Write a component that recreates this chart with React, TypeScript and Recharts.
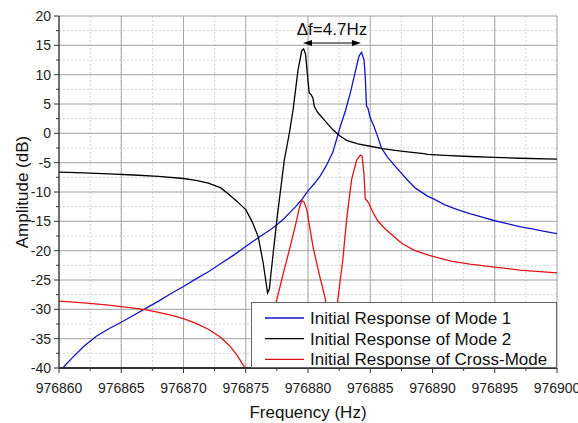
import React from 'react';
import { LineChart, Line, XAxis, YAxis, CartesianGrid, Legend, ReferenceLine, Label } from 'recharts';

// frequency (Hz) / amplitude (dB) pairs
const mode1Freq = [976860.3, 976861, 976862, 976863, 976864, 976865, 976866, 976867, 976868, 976869, 976870, 976871, 976872, 976873, 976874, 976875, 976876, 976877, 976877.5, 976878, 976878.5, 976879, 976879.5, 976880, 976880.5, 976881, 976881.5, 976882, 976882.6, 976883, 976883.4, 976883.9, 976884.1, 976884.3, 976884.5, 976884.6, 976884.7, 976884.8, 976885, 976885.3, 976885.6, 976885.9, 976886.4, 976887, 976888, 976888.6, 976889.6, 976890, 976891, 976892, 976893, 976894, 976895, 976896, 976897, 976898, 976899, 976900];
const mode1Amp = [-40, -38.4, -36.3, -34.6, -33.3, -32.2, -31, -29.8, -28.6, -27.3, -26.1, -24.8, -23.6, -22.2, -20.8, -19.3, -17.8, -16.4, -15.6, -14.7, -13.6, -12.5, -11.3, -9.8, -8.6, -7.2, -5.4, -3.2, 1.2, 3.8, 6.9, 11.4, 13.2, 13.8, 12.5, 9.7, 4.6, 4.4, 2.6, 1.2, -0.6, -2.5, -4.1, -5.6, -8.0, -9.3, -10.7, -11.1, -12.2, -13.0, -13.7, -14.3, -14.9, -15.4, -15.9, -16.3, -16.7, -17.1];

const mode2Freq = [976860, 976862, 976864, 976866, 976868, 976870, 976871, 976872, 976873, 976873.7, 976874.3, 976875, 976875.5, 976876, 976876.4, 976876.6, 976876.75, 976876.9, 976877, 976877.5, 976877.9, 976878.1, 976878.5, 976878.8, 976879.2, 976879.5, 976879.65, 976879.8, 976880, 976880.1, 976880.25, 976880.4, 976880.5, 976880.8, 976881.3, 976882, 976882.6, 976883.1, 976884, 976885, 976886, 976887, 976888, 976889.3, 976889.6, 976891, 976893, 976895, 976897, 976900];
const mode2Amp = [-6.6, -6.75, -6.9, -7.1, -7.35, -7.7, -8.0, -8.5, -9.3, -10.5, -11.6, -13, -15, -17.6, -22.1, -25, -27.2, -26.5, -24.4, -14.7, -7.9, -4.5, 0, 4.0, 10.8, 14.1, 14.4, 13.5, 9, 6.9, 6.6, 6.0, 4.6, 3.5, 2.3, 0.6, -0.5, -1.2, -1.8, -2.2, -2.6, -2.9, -3.15, -3.45, -3.6, -3.75, -3.95, -4.1, -4.25, -4.4];

const crossFreq = [976860, 976862, 976864, 976866, 976867, 976868, 976869, 976870, 976871, 976872, 976873, 976873.7, 976874.3, 976875, 976875.5, 976876, 976876.5, 976877, 976877.5, 976878, 976878.5, 976879, 976879.3, 976879.5, 976879.7, 976879.9, 976880.1, 976880.4, 976880.9, 976881.4, 976881.9, 976882.4, 976882.8, 976883.1, 976883.5, 976883.9, 976884.2, 976884.35, 976884.5, 976884.6, 976884.75, 976884.85, 976885.2, 976885.6, 976886.2, 976887.5, 976888.5, 976889.6, 976890.4, 976891.5, 976893, 976895, 976897, 976900];
const crossAmp = [-28.6, -28.9, -29.3, -29.8, -30.1, -30.5, -31, -31.6, -32.4, -33.4, -34.8, -36.2, -37.8, -40.2, -48, -41, -36.6, -32.4, -28.3, -24, -19.9, -15.6, -12.8, -11.4, -11.8, -13, -15.5, -19.3, -24, -28.3, -40, -28.3, -21.5, -14.7, -7.9, -4.6, -3.7, -3.9, -7, -11.2, -11.5, -11.8, -13.4, -14.9, -16.3, -18.7, -19.9, -20.7, -21.2, -21.8, -22.3, -22.8, -23.3, -23.8];

const seriesNames = ['Initial Response of Mode 1', 'Initial Response of Mode 2', 'Initial Response of Cross-Mode'];
const seriesColors = ['#1414c8', '#000000', '#e01414'];

const xTicks = [976860, 976862.5, 976865, 976867.5, 976870, 976872.5, 976875, 976877.5, 976880, 976882.5, 976885, 976887.5, 976890, 976892.5, 976895, 976897.5, 976900];
const yTicks = [-40, -37.5, -35, -32.5, -30, -27.5, -25, -22.5, -20, -17.5, -15, -12.5, -10, -7.5, -5, -2.5, 0, 2.5, 5, 7.5, 10, 12.5, 15, 17.5, 20];
const xMajor = xTicks.filter((v) => (v - 976860) % 5 === 0);
const yMajor = yTicks.filter((v) => v % 5 === 0);

const deltaStart = 976879.6;
const deltaEnd = 976884.25;
const deltaLevel = 15.4;

const zip = (f: number[], a: number[]) => f.map((x, i) => ({ f: x, v: a[i] }));
const mode1 = zip(mode1Freq, mode1Amp);
const mode2 = zip(mode2Freq, mode2Amp);
const cross = zip(crossFreq, crossAmp);

const font = '"Liberation Sans", Arial, sans-serif';

const XTick = (props: any) => {
  const { x, y, payload } = props;
  const major = (payload.value - 976860) % 5 === 0;
  return (
    <g>
      <line x1={x} x2={x} y1={y} y2={y + (major ? 5 : 3)} stroke="#333" strokeWidth={1} />
      {major && (
        <text x={x} y={y + 25} textAnchor="middle" fontSize={14} fill="#222" fontFamily={font}>
          {payload.value}
        </text>
      )}
    </g>
  );
};

const YTick = (props: any) => {
  const { x, y, payload } = props;
  const major = payload.value % 5 === 0;
  return (
    <g>
      <line x1={x - (major ? 5 : 3)} x2={x} y1={y} y2={y} stroke="#333" strokeWidth={1} />
      {major && (
        <text x={x - 8} y={y} dy="0.35em" textAnchor="end" fontSize={14} fill="#222" fontFamily={font}>
          {payload.value}
        </text>
      )}
    </g>
  );
};

const DeltaArrow = (props: any) => {
  const { x1, y1, x2 } = props;
  return (
    <g>
      <line x1={x1 + 6} x2={x2 - 6} y1={y1} y2={y1} stroke="#000" strokeWidth={1.2} />
      <polygon points={`${x1},${y1} ${x1 + 9},${y1 - 3} ${x1 + 9},${y1 + 3}`} fill="#000" />
      <polygon points={`${x2},${y1} ${x2 - 9},${y1 - 3} ${x2 - 9},${y1 + 3}`} fill="#000" />
      <text x={(x1 + x2) / 2} y={y1 - 8} textAnchor="middle" fontSize={17} fill="#111" fontFamily={font}>
        Δf=4.7Hz
      </text>
    </g>
  );
};

const LegendBox = () => (
  <svg width={306} height={66} style={{ display: 'block' }}>
    <rect x={0.5} y={0.5} width={305} height={65} fill="#fff" stroke="#666" />
    {seriesNames.map((name, i) => {
      const cy = 16 + i * 20.7;
      return (
        <g key={name}>
          <line x1={14} x2={53} y1={cy} y2={cy} stroke={seriesColors[i]} strokeWidth={1.3} />
          <text x={59} y={cy} dy="0.35em" fontSize={17} fill="#111" fontFamily={font}>
            {name}
          </text>
        </g>
      );
    })}
  </svg>
);

export default function App() {
  return (
    <div style={{ position: 'absolute', left: 0, top: 0, background: '#fff' }}>
      <LineChart width={578} height={423} margin={{ top: 16, right: 21, left: 0, bottom: 0 }}>
        <CartesianGrid stroke="#c8c8c8" strokeDasharray="2 2" strokeWidth={0.8} />
        <CartesianGrid
          stroke="#a8a8a8"
          strokeWidth={1}
          horizontalValues={yMajor}
          verticalValues={xMajor}
        />
        <XAxis
          type="number"
          dataKey="f"
          domain={[976860, 976900]}
          ticks={xTicks}
          interval={0}
          allowDataOverflow
          height={55}
          tickSize={0}
          tickMargin={0}
          tickLine={false}
          tick={<XTick />}
          axisLine={{ stroke: '#333', strokeWidth: 2 }}
        >
          <Label
            value="Frequency (Hz)"
            position="insideBottom"
            offset={5}
            style={{ fontSize: 17, fill: '#111', fontFamily: font }}
          />
        </XAxis>
        <YAxis
          type="number"
          domain={[-40, 20]}
          ticks={yTicks}
          interval={0}
          allowDataOverflow
          width={59}
          tickSize={0}
          tickMargin={0}
          tickLine={false}
          tick={<YTick />}
          axisLine={{ stroke: '#333', strokeWidth: 1.2 }}
        >
          <Label
            content={(p: any) => {
              const vb = p.viewBox || { x: 0, y: 16, height: 352 };
              const cy = vb.y + vb.height / 2;
              return (
                <text
                  x={22}
                  y={cy}
                  transform={`rotate(-90 22 ${cy})`}
                  textAnchor="middle"
                  dy="0.35em"
                  fontSize={17}
                  fill="#111"
                  fontFamily={font}
                >
                  Amplitude (dB)
                </text>
              );
            }}
          />
        </YAxis>
        <Line data={mode1} dataKey="v" name={seriesNames[0]} type="linear" stroke={seriesColors[0]} strokeWidth={1.3} dot={false} isAnimationActive={false} />
        <Line data={mode2} dataKey="v" name={seriesNames[1]} type="linear" stroke={seriesColors[1]} strokeWidth={1.3} dot={false} isAnimationActive={false} />
        <Line data={cross} dataKey="v" name={seriesNames[2]} type="linear" stroke={seriesColors[2]} strokeWidth={1.3} dot={false} isAnimationActive={false} />
        <ReferenceLine
          segment={[
            { x: deltaStart, y: deltaLevel },
            { x: deltaEnd, y: deltaLevel },
          ]}
          shape={<DeltaArrow />}
        />
        <Legend
          layout="vertical"
          align="center"
          verticalAlign="middle"
          content={<LegendBox />}
          wrapperStyle={{ left: 251, top: 302, width: 306, height: 66 }}
        />
      </LineChart>
    </div>
  );
}
